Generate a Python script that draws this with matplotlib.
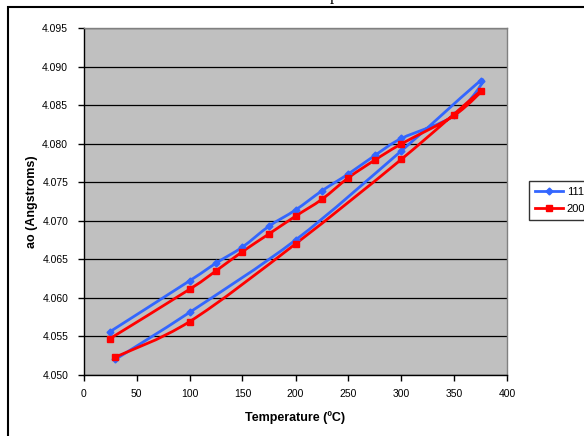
import numpy as np
import matplotlib
matplotlib.use("Agg")
import matplotlib.pyplot as plt
from matplotlib.path import Path
from matplotlib.patches import PathPatch, Rectangle
from matplotlib.lines import Line2D

# Lattice parameter vs temperature, heating then cooling (in measurement order)
temp_111 = [25, 100, 125, 150, 175, 200, 225, 250, 275, 300, 350, 375, 300, 200, 100, 30]
ao_111 = [4.0556, 4.0622, 4.0645, 4.0666, 4.0693, 4.0714, 4.0739, 4.0761, 4.0785, 4.0807,
          4.0837, 4.0882, 4.0791, 4.0675, 4.0581, 4.0520]
temp_200 = [25, 100, 125, 150, 175, 200, 225, 250, 275, 300, 350, 375, 300, 200, 100, 30]
ao_200 = [4.0547, 4.0611, 4.0635, 4.0660, 4.0683, 4.0706, 4.0728, 4.0756, 4.0779, 4.0800,
          4.0837, 4.0869, 4.0780, 4.0670, 4.0569, 4.0523]

x_ticks = [0, 50, 100, 150, 200, 250, 300, 350, 400]
y_ticks = [4.050, 4.055, 4.060, 4.065, 4.070, 4.075, 4.080, 4.085, 4.090, 4.095]

plt.rcParams['font.family'] = ['Liberation Sans', 'DejaVu Sans']


def smooth_path(xs, ys):
    # Excel style smoothed line: cubic Bezier through every point
    pts = np.column_stack([xs, ys]).astype(float)
    n = len(pts)
    verts = [pts[0]]
    codes = [Path.MOVETO]
    for i in range(n - 1):
        p_prev = pts[max(i - 1, 0)]
        p0 = pts[i]
        p1 = pts[i + 1]
        p_next = pts[min(i + 2, n - 1)]
        c1 = p0 + (p1 - p_prev) / 6.0
        c2 = p1 - (p_next - p0) / 6.0
        verts += [c1, c2, p1]
        codes += [Path.CURVE4] * 3
    return Path(verts, codes)


fig = plt.figure(figsize=(5.84, 4.36), dpi=100)
ax = fig.add_axes([83.5 / 584, 1 - 374.8 / 436, 424 / 584, 346.5 / 436])
ax.set_facecolor('#C0C0C0')

series = [
    (temp_111, ao_111, '#3366FF', 'D', 3.5, '111'),
    (temp_200, ao_200, '#FF0000', 's', 4.5, '200'),
]
handles = []
for t, a, col, mk, ms, lab in series:
    ax.add_patch(PathPatch(smooth_path(t, a), fill=False, edgecolor=col, lw=2, zorder=3))
    ax.plot(t, a, ls='none', marker=mk, ms=ms, color=col, zorder=4)
    handles.append(Line2D([], [], color=col, lw=2, marker=mk, ms=ms, label=lab))

ax.set_xlim(0, 400)
ax.set_ylim(4.050, 4.095)
ax.set_xticks(x_ticks)
ax.set_yticks(y_ticks)
ax.set_yticklabels([f"{v:.3f}" for v in y_ticks])
ax.yaxis.grid(True, color='black', lw=0.9)
ax.set_axisbelow(True)
ax.tick_params(axis='both', direction='out', length=4, width=1, labelsize=7.5, color='black')
ax.tick_params(axis='x', pad=6)
ax.tick_params(axis='y', pad=7)
for side in ['left', 'bottom']:
    ax.spines[side].set_color('black')
    ax.spines[side].set_linewidth(1)
for side in ['top', 'right']:
    ax.spines[side].set_color('#808080')
    ax.spines[side].set_linewidth(1)

ax.set_xlabel("Temperature (ºC)", fontsize=9, fontweight='bold', labelpad=9)
ax.set_ylabel("ao (Angstroms)", fontsize=9, fontweight='bold', labelpad=3)

leg = fig.legend(handles=handles, loc='upper left', bbox_to_anchor=(529 / 584, 1 - 181 / 436),
                 fontsize=8, frameon=True, fancybox=False, edgecolor='black',
                 handlelength=2.6, handletextpad=0.3, borderpad=0.5, labelspacing=0.7,
                 borderaxespad=0)
leg.get_frame().set_linewidth(1)

# outer chart frame (cropped on the right and bottom)
fig.add_artist(Rectangle((8 / 584, -0.1), 2, 1 - 7 / 436 + 0.1, transform=fig.transFigure,
                         fill=False, edgecolor='black', lw=1.5))
# tail of the cropped title
fig.text(334 / 584, 1 + 0.5 / 436, "p", family='Liberation Serif', fontsize=12,
         ha='center', va='baseline')

fig.savefig("out.png", dpi=100)
